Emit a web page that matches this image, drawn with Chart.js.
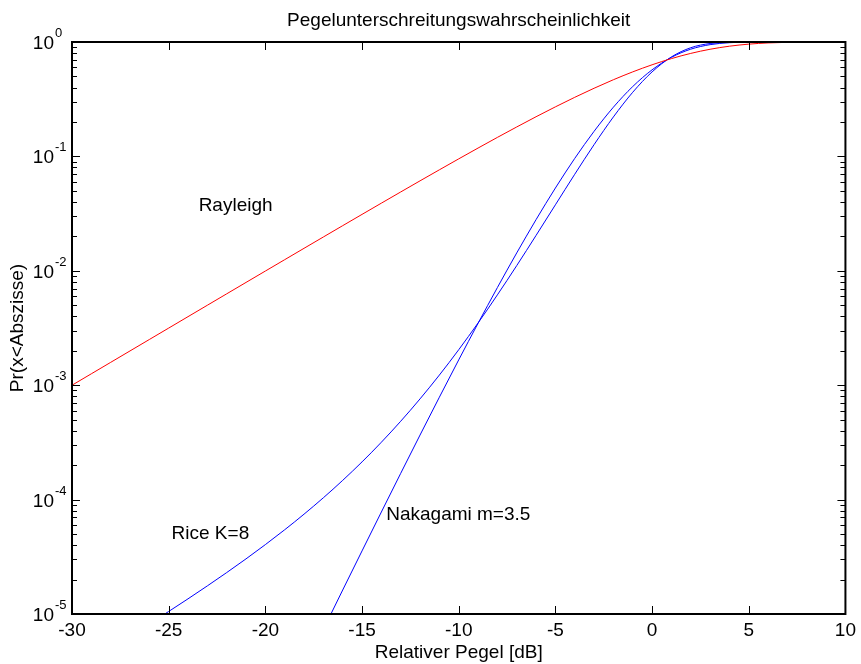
<!DOCTYPE html>
<html>
<head>
<meta charset="utf-8">
<script src="https://cdn.jsdelivr.net/npm/chart.js@4.4.1/dist/chart.umd.min.js"></script>
<style>
  html, body { margin: 0; padding: 0; background: #ffffff; }
  canvas { display: block; }
</style>
</head>
<body>
<canvas id="c" width="861" height="664"></canvas>
<script>
// ---------------- data ----------------
const levelsDb = [-30,-29,-28,-27,-26,-25,-24,-23,-22,-21,-20,-19,-18,-17,-16,-15,-14,-13,-12,-11,
                  -10,-9,-8,-7,-6,-5,-4,-3,-2,-1,0,1,2,3,4,5,6,7,8,9,10];

const rayleigh = [9.995e-4,1.2581e-3,1.5836e-3,1.9933e-3,2.5087e-3,3.1573e-3,3.9732e-3,4.9994e-3,6.2897e-3,7.9118e-3,
                  9.950e-3,0.012510,0.015724,0.019755,0.024806,0.031128,0.039029,0.048884,0.061146,0.076359,
                  0.095163,0.118291,0.146566,0.180885,0.222128,0.271077,0.328403,0.394154,0.467917,0.548134,
                  0.632121,0.716051,0.795034,0.864014,0.918891,0.957687,0.981332,0.993344,0.998183,0.999645,0.999955];

const riceK8 = [null,null,null,null,8.195e-6,1.0521e-5,1.3571e-5,1.7609e-5,2.3012e-5,3.0335e-5,
                4.0406e-5,5.4493e-5,7.4567e-5,1.03779e-4,1.47261e-4,2.13574e-4,3.17318e-4,4.84041e-4,7.59382e-4,1.22673e-3,
                2.04141e-3,3.49794e-3,6.15804e-3,0.0111018,0.0203761,0.0377516,0.069776,0.126654,0.221316,0.36363,
                0.547783,0.74049,0.89113,0.9705,0.99567,0.99972,0.999994,1.0,1.0,1.0,1.0];

const nakagamiM35 = [null,null,null,null,null,null,null,null,null,null,
                     null,null,null,7.333e-6,1.6203e-5,3.560e-5,7.791e-5,1.6965e-4,3.6668e-4,7.858e-4,
                     1.6645e-3,3.4758e-3,7.1337e-3,0.014327,0.028002,0.052920,0.095993,0.16567,0.26930,0.40807,
                     0.57110,0.73395,0.86544,0.94822,0.98600,0.99759,0.99977,0.99999,1.0,1.0,1.0];

const yDecadeExponents = [0, -1, -2, -3, -4, -5];
const minorMultipliers = [2, 3, 4, 5, 6, 7, 8, 9];

const chartTitle = 'Pegelunterschreitungswahrscheinlichkeit';
const xAxisTitle = 'Relativer Pegel [dB]';
const yAxisTitle = 'Pr(x<Abszisse)';
const curveNames = ['Rayleigh', 'Rice K=8', 'Nakagami m=3.5'];

// ---------------- helpers ----------------
const FONT = '"Liberation Sans", Arial, Helvetica, sans-serif';
function toPoints(values) {
  const pts = [];
  values.forEach((v, i) => { if (v !== null) pts.push({ x: levelsDb[i], y: v }); });
  return pts;
}

// text annotations: anchored in data space (dB, probability)
const annotations = [
  { text: curveNames[0], x: -23.45, y: 0.0333 },
  { text: curveNames[1], x: -24.85, y: 4.53e-5 },
  { text: curveNames[2], x: -13.75, y: 6.63e-5 }
];

const framePlugin = {
  id: 'frame',
  beforeDraw(chart) {
    const ctx = chart.ctx;
    ctx.save();
    ctx.fillStyle = '#ffffff';
    ctx.fillRect(0, 0, chart.width, chart.height);
    ctx.restore();
  },
  afterDraw(chart) {
    const ctx = chart.ctx;
    const a = chart.chartArea;
    const xs = chart.scales.x;
    const ys = chart.scales.y;
    ctx.save();

    // tick marks pointing inward, on all four sides
    ctx.strokeStyle = '#000000';
    ctx.lineWidth = 1;
    ctx.beginPath();
    xs.ticks.forEach(t => {
      const px = Math.round(xs.getPixelForValue(t.value)) + 0.5;
      ctx.moveTo(px, a.bottom); ctx.lineTo(px, a.bottom - 8);
      ctx.moveTo(px, a.top); ctx.lineTo(px, a.top + 8);
    });
    yDecadeExponents.forEach(e => {
      const major = Math.pow(10, e);
      const pyM = Math.round(ys.getPixelForValue(major)) + 0.5;
      ctx.moveTo(a.left, pyM); ctx.lineTo(a.left + 8, pyM);
      ctx.moveTo(a.right, pyM); ctx.lineTo(a.right - 8, pyM);
      if (e < 0) {
        minorMultipliers.forEach(m => {
          const py = Math.round(ys.getPixelForValue(m * major)) + 0.5;
          ctx.moveTo(a.left, py); ctx.lineTo(a.left + 5, py);
          ctx.moveTo(a.right, py); ctx.lineTo(a.right - 5, py);
        });
      }
    });
    ctx.stroke();

    // axes box
    ctx.lineWidth = 2;
    ctx.strokeRect(a.left, a.top, a.right - a.left, a.bottom - a.top);

    // y tick labels 10^e
    ctx.fillStyle = '#000000';
    ctx.textBaseline = 'alphabetic';
    yDecadeExponents.forEach(e => {
      const py = ys.getPixelForValue(Math.pow(10, e));
      ctx.font = '19px ' + FONT;
      ctx.textAlign = 'right';
      ctx.fillText('10', a.left - 18, py + 7);
      ctx.font = '13px ' + FONT;
      ctx.textAlign = 'left';
      ctx.fillText(String(e), a.left - 17, py - 5);
    });

    // title
    ctx.font = '19px ' + FONT;
    ctx.textAlign = 'center';
    ctx.fillText(chartTitle, (a.left + a.right) / 2, 26);

    // curve annotations
    ctx.textAlign = 'left';
    annotations.forEach(an => {
      ctx.fillText(an.text, xs.getPixelForValue(an.x), ys.getPixelForValue(an.y));
    });

    ctx.restore();
  }
};

new Chart(document.getElementById('c'), {
  type: 'line',
  data: {
    datasets: [
      { label: curveNames[0], data: toPoints(rayleigh), borderColor: '#ff0000', borderWidth: 1,
        pointRadius: 0, cubicInterpolationMode: 'monotone', fill: false },
      { label: curveNames[1], data: toPoints(riceK8), borderColor: '#0000ff', borderWidth: 1,
        pointRadius: 0, cubicInterpolationMode: 'monotone', fill: false },
      { label: curveNames[2], data: toPoints(nakagamiM35), borderColor: '#0000ff', borderWidth: 1,
        pointRadius: 0, cubicInterpolationMode: 'monotone', fill: false }
    ]
  },
  options: {
    responsive: false,
    animation: false,
    devicePixelRatio: 1,
    layout: { padding: { left: 0, right: 10, top: 42, bottom: 0 } },
    plugins: { legend: { display: false }, tooltip: { enabled: false }, title: { display: false } },
    scales: {
      x: {
        type: 'linear', min: -30, max: 10,
        ticks: { stepSize: 5, color: '#000000', font: { size: 19, family: FONT }, padding: 5,
                 maxRotation: 0, autoSkip: false },
        grid: { display: false, drawTicks: false },
        border: { display: false },
        title: { display: true, text: xAxisTitle, color: '#000000', font: { size: 19, family: FONT },
                 padding: { top: 0, bottom: 0 } },
        afterFit(scale) { scale.height = 50; }
      },
      y: {
        type: 'logarithmic', min: 1e-5, max: 1,
        ticks: { display: false },
        grid: { display: false, drawTicks: false },
        border: { display: false },
        title: { display: true, text: yAxisTitle, color: '#000000', font: { size: 19, family: FONT },
                 padding: { top: 6, bottom: 0 } },
        afterFit(scale) { scale.width = 72; }
      }
    }
  },
  plugins: [framePlugin]
});
</script>
</body>
</html>
